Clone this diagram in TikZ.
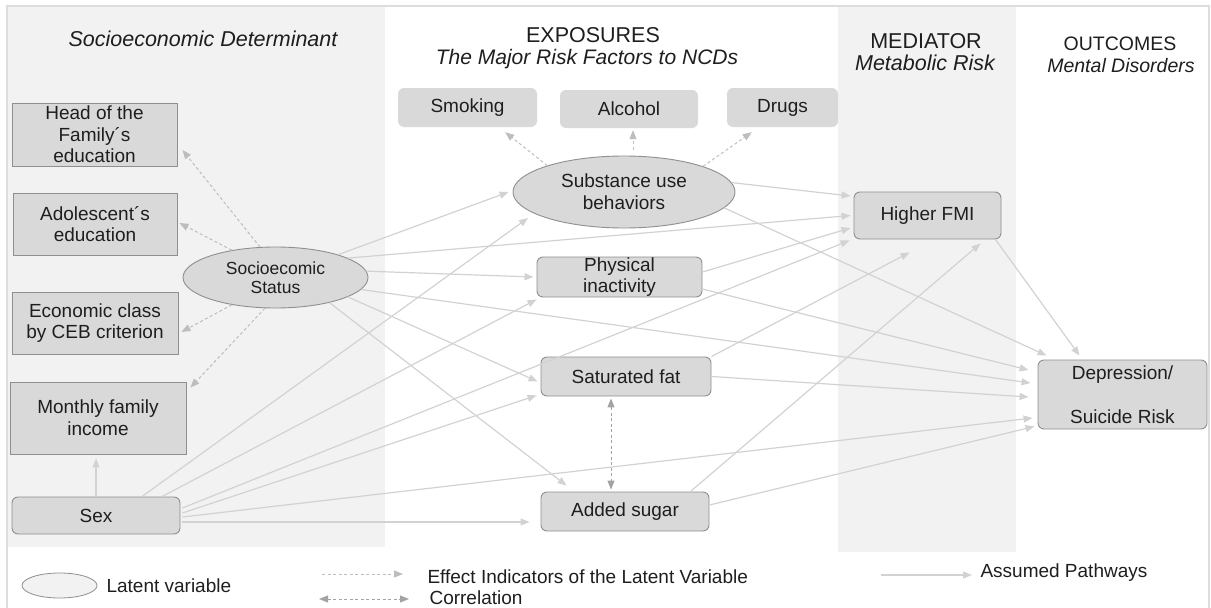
\documentclass[tikz,border=0pt]{standalone}
\usepackage{fontspec}
\setmainfont{Liberation Sans}
\usetikzlibrary{arrows.meta,shapes.geometric,calc}
\definecolor{panel}{HTML}{F2F2F2}
\definecolor{boxfill}{HTML}{D9D9D9}
\definecolor{boxline}{HTML}{8F8F8F}
\definecolor{pathc}{HTML}{D2D2D2}
\definecolor{dashc}{HTML}{BDBDBD}
\definecolor{corrc}{HTML}{A3A3A3}
\definecolor{framec}{HTML}{DDDDDD}
\definecolor{txt}{HTML}{1E1E1E}
\begin{document}
\begin{tikzpicture}[x=1pt,y=-1pt,
  every node/.style={text=txt},
  bx/.style={font=\fontsize{19}{21.7}\selectfont, align=center, inner sep=0pt, fill=boxfill},
  sqbox/.style={bx, rectangle, draw=boxline, line width=0.9pt},
  rbox/.style={bx, rectangle, rounded corners=6pt, draw=boxline, line width=0.9pt},
  tbox/.style={bx, rectangle, rounded corners=6pt},
  lat/.style={bx, ellipse, draw=boxline, line width=0.9pt},
  apath/.style={draw=pathc, line width=1.2pt, -{Triangle[length=9pt,width=7pt]}},
  ind/.style={draw=dashc, line width=1pt, dash pattern=on 3pt off 2.5pt, -{Triangle[length=9pt,width=7pt]}},
  corr/.style={draw=corrc, line width=1pt, dash pattern=on 3pt off 2.5pt, {Triangle[length=9pt,width=7pt]}-{Triangle[length=9pt,width=7pt]}},
  hdr/.style={font=\fontsize{21.5}{24}\selectfont, anchor=base},
  hdrs/.style={font=\fontsize{19.5}{22}\selectfont, anchor=base},
  lgd/.style={font=\fontsize{19}{22}\selectfont, anchor=base west}
]
\useasboundingbox (0,0) rectangle (1211,608);
% panels and frame
\fill[panel] (8,7) rectangle (385,547);
\fill[panel] (838,7) rectangle (1016,552);
\draw[framec, line width=1.2pt] (7,608) -- (7,6) -- (1209,6) -- (1209,608);

% headers
\node[hdr, font=\fontsize{21.5}{24}\selectfont\itshape] (h1) at (203,46) {Socioeconomic Determinant};
\node[hdr] (h2) at (593,42) {EXPOSURES};
\node[hdr, font=\fontsize{21}{24}\selectfont\itshape] (h2b) at (587,64) {The Major Risk Factors to NCDs};
\node[hdr] (h3) at (926,48) {MEDIATOR};
\node[hdr, font=\fontsize{21.5}{24}\selectfont\itshape] (h3b) at (925,70) {Metabolic Risk};
\node[hdrs] (h4) at (1120,50) {OUTCOMES};
\node[hdrs, font=\fontsize{19.5}{22}\selectfont\itshape] (h4b) at (1121,72) {Mental Disorders};

% left column
\node[sqbox, minimum width=165pt, minimum height=63pt] (head) at (94.5,134.5) {Head of the\\Family´s\\education};
\node[sqbox, minimum width=164pt, minimum height=62pt] (adol) at (95,224) {Adolescent´s\\education};
\node[sqbox, minimum width=166pt, minimum height=62pt] (econ) at (95,323) {Economic class\\by CEB criterion};
\node[sqbox, minimum width=176pt, minimum height=72pt] (mon) at (98,418) {Monthly family\\income};
\node[rbox, minimum width=168pt, minimum height=37pt] (sex) at (96,515.5) {Sex};
\node[lat, minimum width=185pt, minimum height=61pt, font=\fontsize{17.5}{19.5}\selectfont] (ses) at (275.5,277.5) {Socioecomic\\Status};

% exposures
\node[tbox, minimum width=139pt, minimum height=39pt] (smk) at (467.5,107.5) {Smoking};
\node[tbox, minimum width=138pt, minimum height=38pt] (alc) at (629,109) {Alcohol};
\node[tbox, minimum width=111pt, minimum height=39pt] (drg) at (782.5,107.5) {Drugs};
\node[lat, minimum width=222pt, minimum height=72pt] (sub) at (624,192) {Substance use\\behaviors};
\node[rbox, minimum width=165pt, minimum height=40pt] (phy) at (619.5,277) {Physical\\inactivity};
\node[rbox, minimum width=170pt, minimum height=39pt] (sat) at (626,376.5) {Saturated fat};
\node[rbox, minimum width=168pt, minimum height=39pt] (sug) at (625,511.5) {Added sugar};

% mediator and outcome
\node[rbox, minimum width=147pt, minimum height=47pt] (fmi) at (927.5,215.5) {Higher FMI};
\node[rbox, minimum width=169pt, minimum height=69pt] (dep) at (1122.5,394.5) {Depression/\\[22pt]Suicide Risk};

% effect indicators
\draw[ind] (ses.117) -- ($(head.east)+(5,15.5)$);
\draw[ind] (ses.148) -- ($(adol.east)+(2,-1)$);
\draw[ind] (ses.212) -- ($(econ.east)+(3,9)$);
\draw[ind] (ses.251) -- ($(mon.north east)+(4,6)$);
\draw[ind] (sub.161) -- ($(smk.south east)+(-32,5)$);
\draw[ind] ($(sub.north)+(9,-6)$) -- ($(alc.south)+(4,2)$);
\draw[ind] (sub.18) -- ($(drg.south west)+(25,5)$);

% correlation
\draw[corr] ($(sat.south)+(-15,2)$) -- ($(sug.north)+(-14,-2)$);

% assumed pathways: SES
\draw[apath] (ses.20) -- ($(sub.west)+(-4,0)$);
\draw[apath] (ses.15) -- ($(fmi.west)+(-3,0)$);
\draw[apath] (ses.4) -- ($(phy.west)+(-3,0)$);
\draw[apath] (ses.-8) -- ($(dep.west)+(-7,-11.5)$);
\draw[apath] (ses.-15) -- ($(sat.west)+(-3,5)$);
\draw[apath] (ses.-25) -- ($(sug.north west)+(26,-6)$);
% substance
\draw[apath] (sub.5) -- ($(fmi.west)+(-3,-19.5)$);
\draw[apath] (sub.-9) -- ($(dep.north west)+(9,-4)$);
% physical inactivity
\draw[apath] ($(phy.east)+(0,-5)$) -- ($(fmi.west)+(-3,12.5)$);
\draw[apath] ($(phy.east)+(0,12)$) -- ($(dep.west)+(-9,-24.5)$);
% saturated fat
\draw[apath] (sat.north east) -- ($(fmi.south west)+(56,13)$);
\draw[apath] (sat.east) -- ($(dep.west)+(-9,2.5)$);
% added sugar
\draw[apath] ($(sug.north east)+(-19,0)$) -- ($(fmi.south east)+(-21,4)$);
\draw[apath] ($(sug.east)+(0,-6.5)$) -- ($(dep.south west)+(-3,-3)$);
% higher FMI
\draw[apath] ($(fmi.south east)+(-6,0)$) -- ($(dep.north)+(-43,-4)$);
% sex
\draw[apath, shorten >=4pt] (sex.north) -- (sex.north |- mon.south);
\draw[apath] ($(sex.north)+(46,0)$) -- ($(sub)+(-96,26)$);
\draw[apath] ($(sex.north)+(66,0)$) -- ($(phy.south west)+(0,2)$);
\draw[apath] ($(sex.east)+(2,-7.5)$) -- ($(fmi.south west)+(-4,1)$);
\draw[apath] ($(sex.east)+(2,-2.5)$) -- ($(sat.south west)+(-4,-1)$);
\draw[apath] ($(sex.east)+(2,1.5)$) -- ($(dep.west)+(-5,23.5)$);
\draw[apath] ($(sex.east)+(2,6.5)$) -- ($(sug.west)+(-11,10.5)$);

% legend
\node[ellipse, draw=boxline, fill=panel, line width=0.8pt, minimum width=75pt, minimum height=25pt, inner sep=0pt] (lgell) at (59.5,585.5) {};
\node[lgd] (lgt1) at (103,592) {Latent variable};
\coordinate (l1a) at (322,574);
\coordinate (l1b) at (403,574);
\draw[ind] (l1a) -- (l1b);
\node[lgd] (lgt2) at (424,583) {Effect Indicators of the Latent Variable};
\coordinate (l2a) at (319,599);
\coordinate (l2b) at (409,599);
\draw[corr] (l2a) -- (l2b);
\node[lgd] (lgt3) at (426,604) {Correlation};
\coordinate (l3a) at (881,575);
\coordinate (l3b) at (972,575);
\draw[apath] (l3a) -- (l3b);
\node[lgd] (lgt4) at (977,577) {Assumed Pathways};
\end{tikzpicture}
\end{document}
